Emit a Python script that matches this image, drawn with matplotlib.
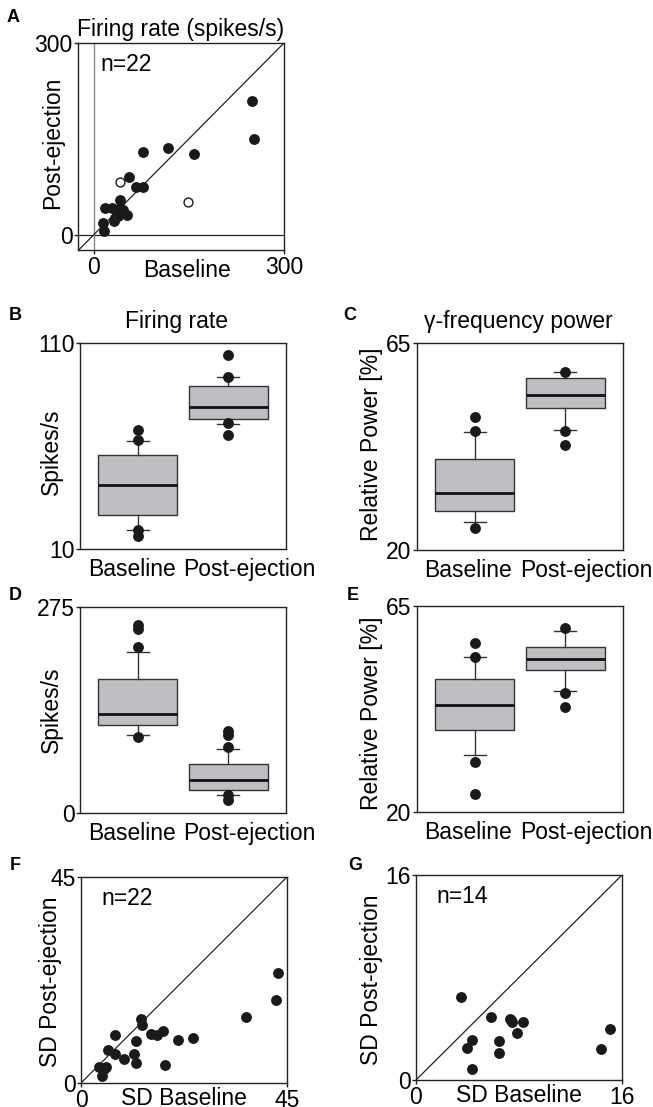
import matplotlib
matplotlib.use("Agg")
import matplotlib.pyplot as plt

plt.rcParams['font.family'] = ['Liberation Sans', 'DejaVu Sans']
plt.rcParams['font.size'] = 16.5
FS = 16.5
MS = 6.8

# ---- data ----
# A: firing rate, baseline vs post-ejection (filled = significant, open = n.s.)
a_base = [250, 253, 78, 117, 158, 56, 67, 78, 41, 17, 28, 41, 46, 52, 33, 38, 15, 16, 45, 32]
a_post = [209, 150, 129, 135, 126, 91, 75, 75, 55, 42, 42, 42, 39, 31, 26, 29, 18, 5, 35, 22]
a_open_base = [42, 149]
a_open_post = [82, 51]

groups = ['Baseline', 'Post-ejection']

# box summaries: (whislo, q1, med, q3, whishi, fliers)
b_stats = [(19.4, 26.5, 41.2, 55.5, 62.6, [67.6, 63.1, 19.4, 16.1]),
           (70.8, 73.1, 78.8, 89.0, 93.3, [104, 93.3, 71.2, 65.5])]
c_stats = [(26.0, 28.4, 32.3, 39.7, 45.6, [48.9, 45.8, 24.7]),
           (46.1, 50.8, 53.8, 57.3, 58.8, [58.8, 45.9, 42.9])]
d_stats = [(103.7, 117.9, 132.6, 178.9, 214.5, [251.4, 245.7, 221.6, 101.5]),
           (24.5, 30.3, 43.6, 65.4, 85.9, [109, 104.6, 88.1, 24.5, 17.8])]
e_stats = [(32.4, 37.9, 43.4, 49.0, 53.9, [57.0, 53.9, 30.9, 23.9]),
           (46.5, 51.0, 53.4, 56.0, 59.5, [60.1, 46.0, 43.0])]

# F: SD of firing rate
f_base = [43.0, 42.7, 36.1, 24.5, 21.2, 17.9, 16.5, 15.2, 13.3, 13.0, 12.0, 7.5,
          5.8, 7.5, 9.5, 11.5, 12.0, 18.3, 4.0, 5.5, 5.1, 4.6]
f_post = [24.0, 18.1, 14.4, 9.9, 9.5, 11.3, 10.4, 10.6, 12.6, 13.9, 9.2, 10.4,
          7.1, 6.4, 5.2, 6.3, 4.4, 3.9, 3.5, 3.5, 3.1, 1.5]
# G: SD of gamma power
g_base = [3.47, 5.83, 7.3, 7.47, 8.34, 7.82, 6.48, 6.48, 4.38, 3.94, 4.38, 15.08, 14.38, 7.4]
g_post = [6.5, 4.95, 4.8, 4.56, 4.56, 3.65, 3.05, 2.14, 3.13, 2.53, 0.89, 3.98, 2.4, 4.7]

W, H = 653, 1107
fig = plt.figure(figsize=(W / 100, H / 100), dpi=100)


def make_ax(left, top, right, bottom):
    return fig.add_axes([left / W, 1 - bottom / H, (right - left) / W, (bottom - top) / H])


def style(ax):
    for s in ax.spines.values():
        s.set_linewidth(1.0)
        s.set_color('#222222')
    ax.tick_params(length=3, width=1.0, pad=1, color='#222222', labelsize=FS)


def letter(x, y, t):
    fig.text(x / W, 1 - y / H, t, fontsize=13, fontweight='bold', ha='center', va='center')


def scatter_panel(ax, x, y, lim, n):
    ax.plot(x, y, 'o', ms=MS, color='#1a1a1a', mec='#1a1a1a')
    ax.plot([0, lim], [0, lim], color='#222222', lw=0.9)
    ax.set_xlim(0, lim)
    ax.set_ylim(0, lim)
    ax.set_xticks([0, lim])
    ax.set_yticks([0, lim])
    ax.text(0.1, 0.95, 'n=%d' % n, transform=ax.transAxes, va='top', ha='left', fontsize=FS)
    style(ax)


def box_panel(ax, stats, lo, hi):
    bxs = []
    for st in stats:
        bxs.append(dict(whislo=st[0], q1=st[1], med=st[2], q3=st[3], whishi=st[4], fliers=st[5]))
    ax.bxp(bxs, positions=[1, 2], widths=0.875, patch_artist=True,
           boxprops=dict(facecolor='#bfbfc3', edgecolor='#333333', lw=1.0),
           medianprops=dict(color='#111111', lw=2.0),
           whiskerprops=dict(color='#333333', lw=1.0),
           capprops=dict(color='#333333', lw=1.0), capwidths=0.24,
           flierprops=dict(marker='o', markersize=MS, markerfacecolor='#1a1a1a',
                           markeredgecolor='#1a1a1a'))
    ax.set_xlim(0.364, 2.636)
    ax.set_ylim(lo, hi)
    ax.set_yticks([lo, hi])
    ax.set_xticks([])
    # group names sit a little off the box centres in the original
    ax.text(0.25, -0.045, groups[0], transform=ax.transAxes, ha='center', va='top', fontsize=FS)
    ax.text(0.82, -0.045, groups[1], transform=ax.transAxes, ha='center', va='top', fontsize=FS)
    style(ax)


# ---- A ----
ax = make_ax(78, 43, 284, 250)
ax.axhline(0, color='#222222', lw=0.9)
ax.axvline(0, color='#888888', lw=1.0)
ax.plot([-25, 300], [-25, 300], color='#222222', lw=0.9)
ax.plot(a_base, a_post, 'o', ms=MS, color='#1a1a1a')
ax.plot(a_open_base, a_open_post, 'o', ms=MS - 0.4, mfc='white', mec='#1a1a1a', mew=1.0)
ax.set_xlim(-25, 300)
ax.set_ylim(-24, 300)
ax.set_xticks([0, 300])
ax.set_yticks([0, 300])
ax.text(0.107, 0.95, 'n=22', transform=ax.transAxes, va='top', ha='left', fontsize=FS)
ax.set_title('Firing rate (spikes/s)', pad=5, fontsize=FS)
ax.set_xlabel('Baseline', fontsize=FS)
ax.xaxis.set_label_coords(0.53, -0.045)
ax.set_ylabel('Post-ejection', fontsize=FS)
ax.yaxis.set_label_coords(-0.065, 0.52)
style(ax)
letter(13, 18, 'A')

# ---- B ----
ax = make_ax(80, 343, 286, 549)
box_panel(ax, b_stats, 10, 110)
ax.set_title('Firing rate', pad=11, fontsize=FS, x=0.47)
ax.set_ylabel('Spikes/s', fontsize=FS)
ax.yaxis.set_label_coords(-0.085, 0.47)
letter(15, 315, 'B')

# ---- C ----
ax = make_ax(417, 343, 623, 550)
box_panel(ax, c_stats, 20, 65)
ax.set_title('γ-frequency power', pad=11, fontsize=FS, x=0.49)
ax.set_ylabel('Relative Power [%]', fontsize=FS)
ax.yaxis.set_label_coords(-0.165, 0.51)
letter(350, 315, 'C')

# ---- D ----
ax = make_ax(80, 607, 286, 813)
box_panel(ax, d_stats, 0, 275)
ax.set_ylabel('Spikes/s', fontsize=FS)
ax.yaxis.set_label_coords(-0.085, 0.5)
letter(15, 595, 'D')

# ---- E ----
ax = make_ax(417, 606, 623, 812)
box_panel(ax, e_stats, 20, 65)
ax.set_ylabel('Relative Power [%]', fontsize=FS)
ax.yaxis.set_label_coords(-0.165, 0.48)
letter(353, 595, 'E')

# ---- F ----
ax = make_ax(81, 877, 287, 1083)
scatter_panel(ax, f_base, f_post, 45, 22)
ax.set_xlabel('SD Baseline', fontsize=FS)
ax.xaxis.set_label_coords(0.5, -0.02)
ax.set_ylabel('SD Post-ejection', fontsize=FS)
ax.yaxis.set_label_coords(-0.09, 0.49)
letter(15, 865, 'F')

# ---- G ----
ax = make_ax(416, 875, 622, 1080)
scatter_panel(ax, g_base, g_post, 16, 14)
ax.set_xlabel('SD Baseline', fontsize=FS)
ax.xaxis.set_label_coords(0.5, -0.02)
ax.set_ylabel('SD Post-ejection', fontsize=FS)
ax.yaxis.set_label_coords(-0.16, 0.49)
letter(355, 865, 'G')

fig.savefig('out.png', dpi=100)
